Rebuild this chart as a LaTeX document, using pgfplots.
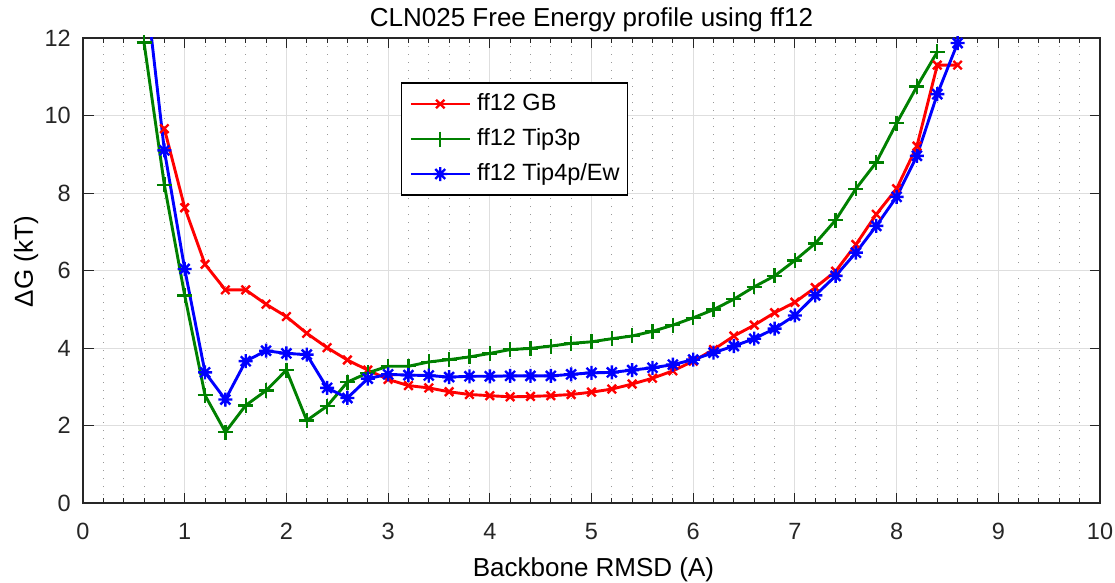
\documentclass[border=0pt]{standalone}
\usepackage{pgfplots}
\pgfplotsset{compat=1.18}
\usepackage{fontspec}
\setmainfont{Liberation Sans}
\usetikzlibrary{plotmarks}
\definecolor{mgreen}{rgb}{0,0.5,0}
\pgfdeclareplotmark{mstar}{%
  \pgfpathmoveto{\pgfqpoint{0pt}{\pgfplotmarksize}}\pgfpathlineto{\pgfqpoint{0pt}{-\pgfplotmarksize}}%
  \pgfpathmoveto{\pgfqpoint{\pgfplotmarksize}{0pt}}\pgfpathlineto{\pgfqpoint{-\pgfplotmarksize}{0pt}}%
  \pgfpathmoveto{\pgfqpoint{.707\pgfplotmarksize}{.707\pgfplotmarksize}}\pgfpathlineto{\pgfqpoint{-.707\pgfplotmarksize}{-.707\pgfplotmarksize}}%
  \pgfpathmoveto{\pgfqpoint{-.707\pgfplotmarksize}{.707\pgfplotmarksize}}\pgfpathlineto{\pgfqpoint{.707\pgfplotmarksize}{-.707\pgfplotmarksize}}%
  \pgfusepathqstroke}

\pgfplotstableread{
x y
0.8 9.66
1.0 7.62
1.2 6.16
1.4 5.50
1.6 5.50
1.8 5.13
2.0 4.81
2.2 4.38
2.4 4.01
2.6 3.69
2.8 3.43
3.0 3.19
3.2 3.03
3.4 2.97
3.6 2.87
3.8 2.80
4.0 2.77
4.2 2.74
4.4 2.75
4.6 2.77
4.8 2.80
5.0 2.86
5.2 2.94
5.4 3.07
5.6 3.22
5.8 3.41
6.0 3.66
6.2 3.96
6.4 4.31
6.6 4.59
6.8 4.91
7.0 5.18
7.2 5.56
7.4 5.98
7.6 6.67
7.8 7.45
8.0 8.11
8.2 9.21
8.4 11.30
8.6 11.30
}\gbdata

\pgfplotstableread{
x y
0.6 11.88
0.8 8.21
1.0 5.36
1.2 2.78
1.4 1.83
1.6 2.52
1.8 2.90
2.0 3.43
2.2 2.13
2.4 2.50
2.6 3.12
2.8 3.36
3.0 3.53
3.2 3.53
3.4 3.64
3.6 3.70
3.8 3.77
4.0 3.86
4.2 3.96
4.4 3.99
4.6 4.05
4.8 4.12
5.0 4.16
5.2 4.24
5.4 4.31
5.6 4.43
5.8 4.59
6.0 4.78
6.2 4.99
6.4 5.26
6.6 5.58
6.8 5.86
7.0 6.26
7.2 6.70
7.4 7.30
7.6 8.11
7.8 8.79
8.0 9.80
8.2 10.75
8.4 11.64
}\tipthree

\pgfplotstableread{
x y
0.6 13.70
0.8 9.10
1.0 6.04
1.2 3.37
1.4 2.67
1.6 3.66
1.8 3.93
2.0 3.86
2.2 3.83
2.4 2.97
2.6 2.71
2.8 3.21
3.0 3.32
3.2 3.30
3.4 3.29
3.6 3.25
3.8 3.27
4.0 3.27
4.2 3.28
4.4 3.28
4.6 3.28
4.8 3.32
5.0 3.36
5.2 3.37
5.4 3.43
5.6 3.49
5.8 3.57
6.0 3.70
6.2 3.88
6.4 4.05
6.6 4.24
6.8 4.50
7.0 4.84
7.2 5.36
7.4 5.86
7.6 6.46
7.8 7.15
8.0 7.90
8.2 8.96
8.4 10.55
8.6 11.87
}\tipfour

\begin{document}
\begin{tikzpicture}
\path[use as bounding box] (-83pt,-79pt) rectangle (1032pt,503pt);
\begin{axis}[
  at={(0,0)}, anchor=south west,
  scale only axis, width=1017pt, height=465pt,
  xmin=0, xmax=10, ymin=0, ymax=12,
  xtick={0,1,...,10}, ytick={0,2,...,12},
  minor x tick num=4,
  grid=both,
  major grid style={color=black!13, line width=1pt},
  minor grid style={color=black!40, line width=1pt, dash pattern=on 1pt off 7pt},
  tick align=inside,
  major tick length=10.5pt, minor tick length=5pt,
  tick style={color=black!85, line width=1pt},
  axis line style={color=black!85, line width=1.4pt},
  /pgf/number format/assume math mode=true,
  ticklabel style={font=\fontsize{23.5}{28}\selectfont, text=black!85},
  xticklabel style={inner sep=0pt, anchor=north, yshift=-20pt},
  yticklabel style={inner sep=0pt, anchor=east, xshift=-12pt},
  title={CLN025 Free Energy profile using ff12},
  xlabel={Backbone RMSD (A)},
  ylabel={ΔG (kT)},
  every axis title/.style={at={(axis description cs:0.5,1.0237)}, anchor=base, inner sep=0pt, font=\fontsize{26}{31}\selectfont},
  every axis x label/.style={at={(axis description cs:0.502,-0.159)}, anchor=base, inner sep=0pt, font=\fontsize{26}{31}\selectfont},
  every axis y label/.style={at={(axis description cs:-0.0492,0.519)}, rotate=90, anchor=base, inner sep=0pt, font=\fontsize{26}{31}\selectfont},
  legend cell align=left,
  legend image code/.code={\draw[mark repeat=2,mark phase=2] plot coordinates {(0pt,0pt) (29.5pt,0pt) (59pt,0pt)};},
  legend style={at={(axis description cs:0.3124,0.9045)}, anchor=north west,
    draw=black, line width=1.2pt, fill=white,
    font=\fontsize{23.5}{28}\selectfont,
    inner xsep=8pt, inner ysep=10pt, row sep=13pt, column sep=6pt,
    nodes={inner sep=0pt, text height=17pt, text depth=5pt}},
]
\addplot[color=red, line width=2.9pt, mark=x, mark size=6pt, mark options={line width=2.4pt}] table {\gbdata};
\addlegendentry{ff12 GB}
\addplot[color=mgreen, line width=2.9pt, mark=+, mark size=7.5pt, mark options={line width=2.4pt}] table {\tipthree};
\addlegendentry{ff12 Tip3p}
\addplot[color=blue, line width=2.9pt, mark=mstar, mark size=7pt, mark options={line width=2.4pt}] table {\tipfour};
\addlegendentry{ff12 Tip4p/Ew}
\end{axis}
\end{tikzpicture}
\end{document}
